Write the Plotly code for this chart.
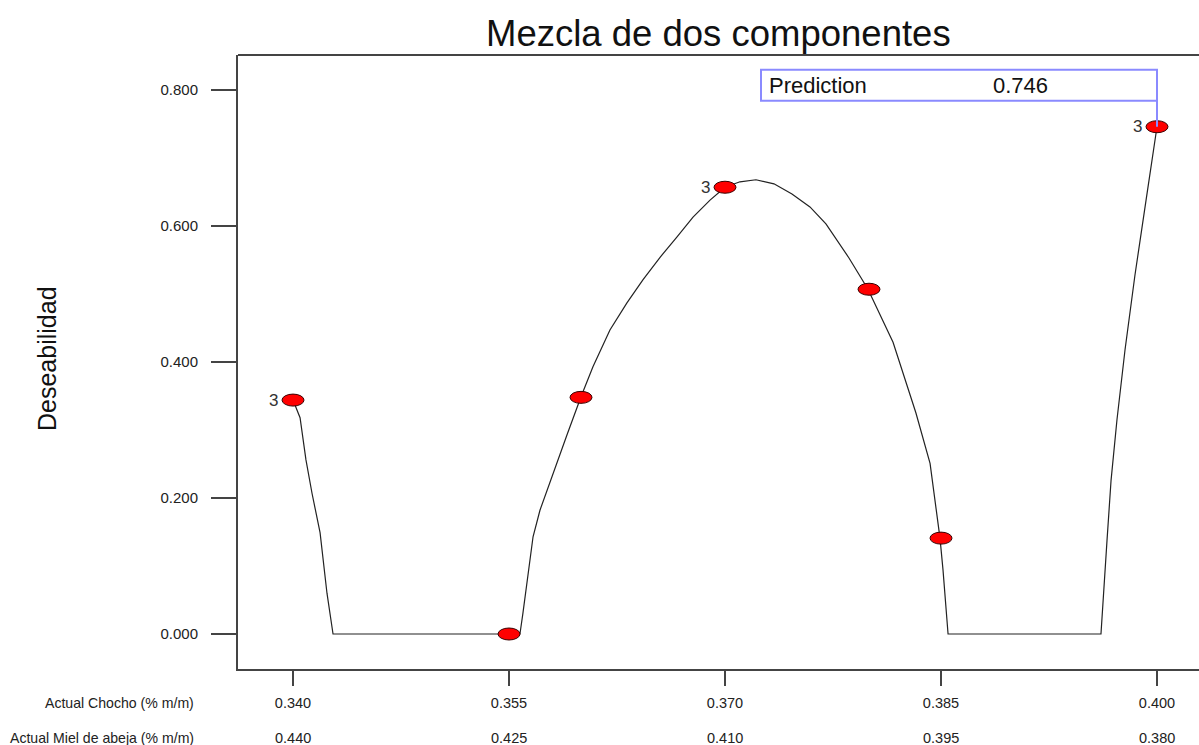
import plotly.graph_objects as go

# ---- data ----
chocho_ticks = [0.340, 0.355, 0.370, 0.385, 0.400]
chocho_labels = ["0.340", "0.355", "0.370", "0.385", "0.400"]
miel_labels = ["0.440", "0.425", "0.410", "0.395", "0.380"]
y_ticks = [0.0, 0.2, 0.4, 0.6, 0.8]
y_labels = ["0.000", "0.200", "0.400", "0.600", "0.800"]

design_x = [0.340, 0.355, 0.360, 0.370, 0.380, 0.385, 0.400]
design_y = [0.344, 0.000, 0.348, 0.657, 0.507, 0.141, 0.746]
replicates = ["3", "", "", "3", "", "", "3"]

curve_x = [0.3400, 0.34049, 0.34090, 0.34132, 0.34188, 0.34236, 0.34278,
           0.35576, 0.35597, 0.35632, 0.35667, 0.35715, 0.35806, 0.35903,
           0.36000, 0.36083, 0.36201, 0.36319, 0.36431, 0.36549, 0.36667,
           0.36778, 0.36896, 0.37000, 0.37104, 0.37215, 0.37340, 0.37465,
           0.37590, 0.37701, 0.37861, 0.37993, 0.38167, 0.38326, 0.38424,
           0.38493, 0.38514, 0.38549, 0.39611, 0.39618, 0.39632, 0.39653,
           0.39681, 0.39722, 0.39778, 0.39847, 0.39924, 0.40000]
curve_y = [0.344, 0.318, 0.256, 0.207, 0.149, 0.060, 0.000,
           0.000, 0.031, 0.084, 0.143, 0.182, 0.237, 0.293,
           0.349, 0.393, 0.447, 0.487, 0.521, 0.554, 0.584,
           0.613, 0.638, 0.657, 0.665, 0.668, 0.662, 0.647,
           0.628, 0.603, 0.553, 0.507, 0.429, 0.325, 0.251,
           0.141, 0.094, 0.000, 0.000, 0.021, 0.065, 0.138,
           0.226, 0.315, 0.418, 0.528, 0.638, 0.746]

title_text = "Mezcla de dos componentes"
y_title = "Deseabilidad"
row1_name = "Actual Chocho (% m/m)"
row2_name = "Actual Miel de abeja (% m/m)"
pred_label = "Prediction"
pred_x = 0.400
pred_y = 0.746

# ---- figure ----
W, H = 1199, 745
ML, MR, MT, MB = 238, 0, 55, 76
FONT = "Liberation Sans, Arial"

fig = go.Figure()
fig.add_trace(go.Scatter(x=curve_x, y=curve_y, mode="lines",
                         line=dict(color="#222222", width=1.2),
                         hoverinfo="skip", showlegend=False))
fig.add_trace(go.Scatter(x=design_x, y=design_y, mode="markers",
                         marker=dict(color="#ff0000", size=10,
                                     line=dict(color="#550000", width=1)),
                         showlegend=False))

shapes = []
for xv, yv in zip(design_x, design_y):
    shapes.append(dict(type="circle", xref="x", yref="y",
                       xsizemode="pixel", ysizemode="pixel",
                       xanchor=xv, yanchor=yv,
                       x0=-11, x1=11, y0=-6, y1=6,
                       fillcolor="#ff0000",
                       line=dict(color="#3a0000", width=1)))
shapes.append(dict(type="rect", xref="x", yref="y",
                   xsizemode="pixel", ysizemode="pixel",
                   xanchor=pred_x, yanchor=pred_y,
                   x0=-396, x1=0, y0=26, y1=57,
                   line=dict(color="#8a8aff", width=2),
                   fillcolor="rgba(0,0,0,0)"))
shapes.append(dict(type="line", xref="x", yref="y",
                   xsizemode="pixel", ysizemode="pixel",
                   xanchor=pred_x, yanchor=pred_y,
                   x0=0, x1=0, y0=0, y1=26,
                   line=dict(color="#8a8aff", width=2)))
shapes.append(dict(type="line", xref="paper", yref="paper",
                   x0=0, x1=1, y0=1, y1=1,
                   line=dict(color="#444444", width=2)))

annotations = []
for xv, yv, r in zip(design_x, design_y, replicates):
    if r:
        annotations.append(dict(x=xv, y=yv, xref="x", yref="y", text=r,
                                showarrow=False, xanchor="right",
                                yanchor="middle", xshift=-13,
                                font=dict(size=17, color="#333333", family=FONT)))
for xv, t in zip(chocho_ticks, miel_labels):
    annotations.append(dict(x=xv, y=0, xref="x", yref="paper", text=t,
                            showarrow=False, xanchor="center", yanchor="middle",
                            yshift=-(738 - (H - MB)),
                            font=dict(size=14.5, color="#222222", family=FONT)))
for name, ypx in [(row1_name, 703), (row2_name, 738)]:
    annotations.append(dict(x=0, y=0, xref="paper", yref="paper", text=name,
                            showarrow=False, xanchor="right", yanchor="middle",
                            xshift=-(ML - 196), yshift=-(ypx - (H - MB)),
                            font=dict(size=14.1, color="#222222", family=FONT)))
annotations.append(dict(x=pred_x, y=pred_y, xref="x", yref="y", text=pred_label,
                        showarrow=False, xanchor="left", yanchor="middle",
                        xshift=-390, yshift=41.5,
                        font=dict(size=22, color="#111111", family=FONT)))
annotations.append(dict(x=pred_x, y=pred_y, xref="x", yref="y",
                        text=f"{pred_y:.3f}",
                        showarrow=False, xanchor="left", yanchor="middle",
                        xshift=-166, yshift=41.5,
                        font=dict(size=22, color="#111111", family=FONT)))
annotations.append(dict(x=0, y=(H - MB - 359) / (H - MT - MB), xref="paper",
                        yref="paper", text=y_title, textangle=-90,
                        showarrow=False, xanchor="center", yanchor="middle",
                        xshift=-(ML - 47),
                        font=dict(size=25, color="#111111", family=FONT)))
annotations.append(dict(x=0.5, y=1, xref="paper", yref="paper", text=title_text,
                        showarrow=False, xanchor="center", yanchor="middle",
                        yshift=(MT - 33),
                        font=dict(size=36.5, color="#111111", family=FONT)))

px_per_x = 14400.0
px_per_y = 680.0
x_range = [0.340 - 55 / px_per_x, 0.340 + (W - 293) / px_per_x]
y_range = [(634 - 669) / px_per_y, (634 - 55) / px_per_y]

fig.update_layout(
    width=W, height=H,
    margin=dict(l=ML, r=MR, t=MT, b=MB, pad=0),
    paper_bgcolor="white", plot_bgcolor="white",
    shapes=shapes, annotations=annotations,
    xaxis=dict(range=x_range, tickvals=chocho_ticks, ticktext=chocho_labels,
               showgrid=False, zeroline=False, showline=True,
               linecolor="#444444", linewidth=2,
               ticks="outside", ticklen=15, tickwidth=1.5, tickcolor="#444444",
               tickfont=dict(size=14.5, color="#222222", family=FONT),
               ticklabelstandoff=5),
    yaxis=dict(range=y_range, tickvals=y_ticks, ticktext=y_labels,
               showgrid=False, zeroline=False, showline=True,
               linecolor="#444444", linewidth=2,
               ticks="outside", ticklen=25, tickwidth=1.5, tickcolor="#444444",
               tickfont=dict(size=15, color="#222222", family=FONT),
               ticklabelstandoff=10),
)

fig.write_html("out.html",
               config={"displayModeBar": False},
               post_script="document.body.style.margin='0';"
                           "document.documentElement.style.overflow='hidden';")
